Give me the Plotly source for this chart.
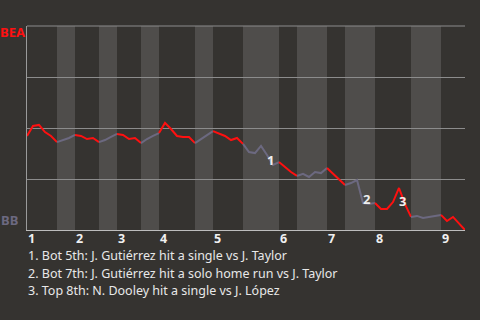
import plotly.graph_objects as go

# ---- data ----
half_innings = ["T1","B1","T2","B2","T3","B3","T4","B4","T5","B5",
                "T6","B6","T7","B7","T8","B8","T9"]
plays_per_half = [5,3,4,3,4,3,6,3,5,6,3,5,3,5,6,5,4]
# BEA win probability (%) after each play, starting value first
bea_wp = [46.1,51.0,51.5,48.0,46.1,43.1,44.1,45.1,46.6,46.1,44.6,45.1,43.1,
          44.1,45.6,47.1,46.6,44.6,45.1,42.6,44.6,46.1,47.5,52.5,49.5,46.1,
          45.6,45.6,42.6,44.6,46.6,48.5,47.1,46.1,44.1,45.1,42.2,38.2,37.7,
          41.2,36.8,31.9,33.3,30.9,28.4,26.5,27.5,26.0,28.4,27.9,30.4,27.5,
          24.5,22.1,23.0,24.5,13.2,12.7,13.2,10.3,10.3,13.7,20.6,12.7,6.4,
          6.9,5.9,6.4,6.9,7.4,4.4,6.4,3.4,0.0]
innings = ["1","2","3","4","5","6","7","8","9"]
key_plays = [41, 56, 62]
key_labels = ["1","2","3"]
key_texts = ["1. Bot 5th: J. Gutiérrez hit a single vs J. Taylor",
             "2. Bot 7th: J. Gutiérrez hit a solo home run vs J. Taylor",
             "3. Top 8th: N. Dooley hit a single vs J. López"]
away, home = "BEA", "BB"

# ---- styles ----
BG = "#353330"
LIGHT = "#4f4d4b"
RED = "#ff1010"
GRAY = "#6c6980"
FONT = "Noto Sans"
key_shift = [(-3, 5), (3, 4), (3, -13)]

fig = go.Figure()

starts = [0]
for n in plays_per_half:
    starts.append(starts[-1] + n)
total = starts[-1]

shapes = []
for i, h in enumerate(half_innings):
    if h.startswith("B"):
        shapes.append(dict(type="rect", xref="x", yref="paper", x0=starts[i], x1=starts[i+1],
                           y0=0, y1=1, fillcolor=LIGHT, line_width=0, layer="below"))
shapes.append(dict(type="line", xref="paper", yref="paper", x0=0, x1=1, y0=1, y1=1,
                   line=dict(color="#8c8c8c", width=1)))

for i, h in enumerate(half_innings):
    xs = list(range(starts[i], starts[i+1] + 1))
    ys = bea_wp[starts[i]:starts[i+1] + 1]
    fig.add_trace(go.Scatter(x=xs, y=ys, mode="lines",
                             line=dict(color=RED if h.startswith("T") else GRAY, width=2),
                             hoverinfo="skip", showlegend=False))

ann = []
for (k, lab), (dx, dy) in zip(zip(key_plays, key_labels), key_shift):
    ann.append(dict(x=k, y=bea_wp[k], xref="x", yref="y", text=f"<b>{lab}</b>", showarrow=False,
                    xshift=dx, yshift=dy, font=dict(family=FONT, size=13, color="#eeeeee")))
for j, inn in enumerate(innings):
    ann.append(dict(x=starts[2*j], y=-0.04, xref="x", yref="paper", text=f"<b>{inn}</b>",
                    showarrow=False, xanchor="left", yanchor="middle", xshift=-1,
                    font=dict(family=FONT, size=12.5, color="#f0f0f0")))
for j, t in enumerate(key_texts):
    ann.append(dict(x=0, y=-0.123 - 0.088*j, xref="paper", yref="paper", text=t, showarrow=False,
                    xanchor="left", yanchor="middle", xshift=-1,
                    font=dict(family=FONT, size=12.5, color="#e8e8e8")))
ann.append(dict(x=0, y=1, xref="paper", yref="paper", text=f"<b>{away}</b>", showarrow=False,
                xanchor="right", yanchor="middle", xshift=0, yshift=-6,
                font=dict(family=FONT, size=13, color=RED)))
ann.append(dict(x=0, y=0, xref="paper", yref="paper", text=f"<b>{home}</b>", showarrow=False,
                xanchor="right", yanchor="middle", xshift=-7, yshift=10,
                font=dict(family=FONT, size=13, color=GRAY)))

fig.update_layout(
    width=480, height=320,
    margin=dict(l=27, r=15, t=26, b=90),
    paper_bgcolor=BG, plot_bgcolor=BG,
    shapes=shapes, annotations=ann,
    xaxis=dict(range=[0, total], showgrid=False, zeroline=False, showticklabels=False,
               showline=True, linecolor="#bdbdbd", linewidth=1, mirror=False, fixedrange=True),
    yaxis=dict(range=[0, 100], tickvals=[25, 50, 75, 100], showgrid=True, gridcolor="#8c8c8c",
               gridwidth=1, zeroline=False, showticklabels=False, showline=True,
               linecolor="#9a9a9a", linewidth=1, fixedrange=True),
)

fig.write_html("out.html")
